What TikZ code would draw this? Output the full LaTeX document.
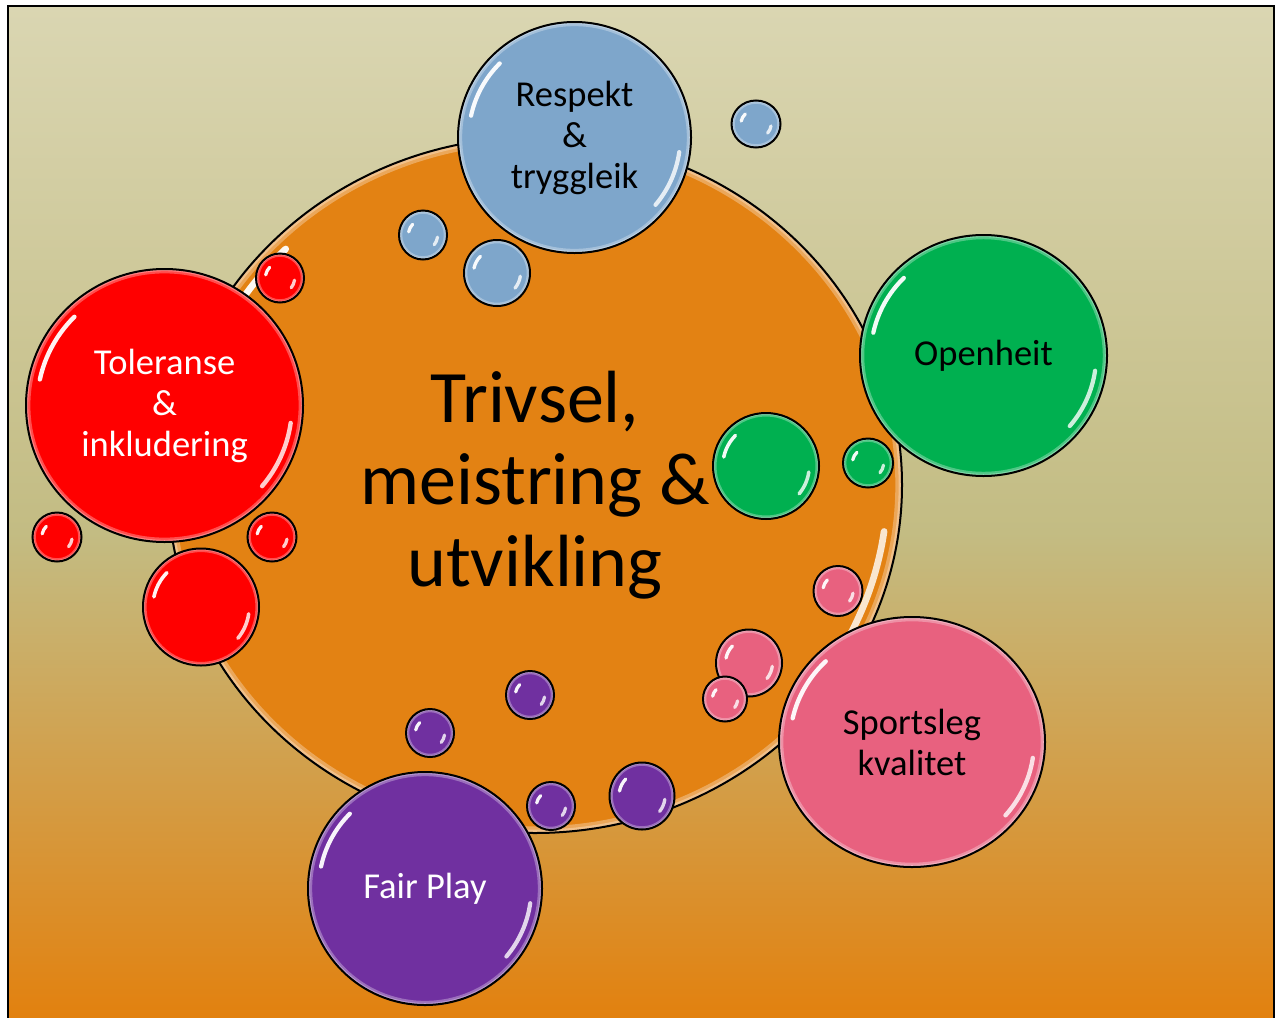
\documentclass[tikz,border=0pt]{standalone}
\usepackage{fontspec}
\setmainfont{Carlito}
\usetikzlibrary{shapes.geometric}

\definecolor{crema}{HTML}{DAD6B2}
\definecolor{oliva}{HTML}{C3BC83}
\definecolor{fondo}{HTML}{E2810F}
\definecolor{naranja}{HTML}{E38213}
\definecolor{azul}{HTML}{7EA6CB}
\definecolor{verde}{HTML}{00B050}
\definecolor{rojo}{HTML}{FF0000}
\definecolor{rosa}{HTML}{E8617F}
\definecolor{lila}{HTML}{7030A0}

\begin{document}
\begin{tikzpicture}[x=1pt, y=-1pt,
    burbuja/.style 2 args={ellipse, draw=black, line width=2pt, inner sep=0pt,
      align=center, minimum width=2*#1pt, minimum height=2*#2pt,
      path picture={
        \pgfmathsetmacro\bw{3+.01*#1}%
        \pgfmathsetmacro\bv{2*\bw}%
        \pgfmathsetmacro\ax{#1-9-.015*#1}%
        \pgfmathsetmacro\ay{#2-9-.015*#2}%
        \draw[white, opacity=.3, line width=\bv pt]
          (path picture bounding box.center) ellipse [x radius=#1pt, y radius=#2pt];
        \draw[white, opacity=.3, line width=\bw pt]
          (path picture bounding box.center) ellipse [x radius=#1pt, y radius=#2pt];
        \draw[white, opacity=.95, line cap=round, line width=\bw pt]
          (path picture bounding box.center) ++(135:\ax pt and \ay pt)
          arc[start angle=135, end angle=168, x radius=\ax pt, y radius=\ay pt];
        \draw[white, opacity=.8, line cap=round, line width=\bw pt]
          (path picture bounding box.center) ++(-8:\ax pt and \ay pt)
          arc[start angle=-8, end angle=-40, x radius=\ax pt, y radius=\ay pt];
      }},
    letra/.style={font=\fontsize{36.5pt}{41pt}\selectfont}]
    \useasboundingbox (0,0) rectangle (1276,1017);

    % Fondo con degradado y marco
    \fill[top color=crema, bottom color=oliva] (8,6) rectangle (1274,533);
    \fill[top color=oliva, bottom color=fondo] (8,532) rectangle (1274,1017);
    \draw[line width=2pt] (8,6) rectangle (1274,1040);

    % Circulo central
    \node[burbuja={367}{348}, fill=naranja, font=\fontsize{74pt}{82pt}\selectfont]
      (centro) at (535,485) {Trivsel,\\meistring \&\\utvikling};

    % Burbujas azules
    \node[burbuja={24.5}{23.5}, fill=azul] (azul1) at (756,124) {};
    \node[burbuja={24}{24.5}, fill=azul] (azul2) at (423,235) {};
    \node[burbuja={33}{33}, fill=azul] (azul3) at (497,273) {};
    \node[burbuja={116.5}{115.5}, letra, fill=azul] (respekt) at (574.5,137.5)
      {Respekt\\\&\\tryggleik};

    % Burbujas verdes
    \node[burbuja={123.5}{120.5}, letra, fill=verde] (openheit) at (983.5,355.5) {Openheit};
    \node[burbuja={53}{53}, fill=verde] (verde1) at (766,466) {};
    \node[burbuja={25}{24.5}, fill=verde] (verde2) at (868,463) {};

    % Burbujas rojas
    \node[burbuja={24}{24.5}, fill=rojo] (rojo1) at (280,278) {};
    \node[burbuja={138.5}{136.5}, letra, text=white, fill=rojo] (toleranse) at (164.5,405.5)
      {Toleranse\\\&\\inkludering};
    \node[burbuja={24.5}{24.5}, fill=rojo] (rojo2) at (57,537) {};
    \node[burbuja={24.5}{24.5}, fill=rojo] (rojo3) at (272,537) {};
    \node[burbuja={58}{58.5}, fill=rojo] (rojo4) at (201,607) {};

    % Burbujas rosas
    \node[burbuja={24.5}{25}, fill=rosa] (rosa1) at (838,591) {};
    \node[burbuja={33}{33.5}, fill=rosa] (rosa2) at (749,663) {};
    \node[burbuja={22}{22.5}, fill=rosa] (rosa3) at (725,699) {};
    \node[burbuja={133}{125}, letra, fill=rosa] (sportsleg) at (912,742) {Sportsleg\\kvalitet};

    % Burbujas lilas
    \node[burbuja={24}{24}, fill=lila] (lila1) at (530,695) {};
    \node[burbuja={24}{24}, fill=lila] (lila2) at (430,733) {};
    \node[burbuja={24}{24}, fill=lila] (lila3) at (551,806) {};
    \node[burbuja={32.5}{33.5}, fill=lila] (lila4) at (642,796) {};
    \node[burbuja={117}{116.5}, letra, text=white, fill=lila] (fairplay) at (425,888.5) {Fair Play};
\end{tikzpicture}
\end{document}
